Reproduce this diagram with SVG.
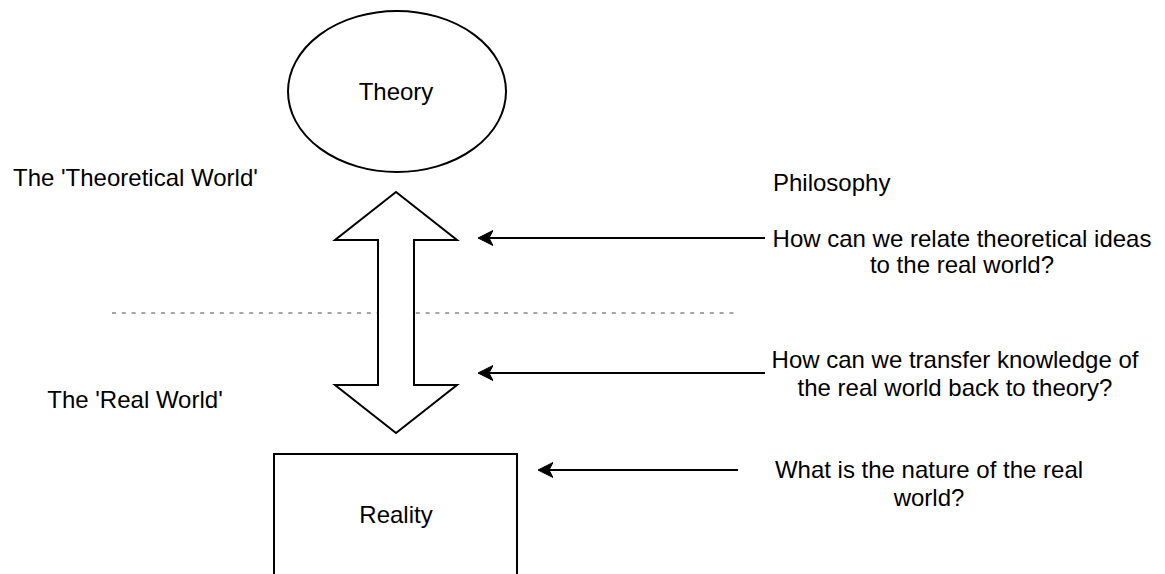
<svg xmlns="http://www.w3.org/2000/svg" width="1165" height="574" viewBox="0 0 1165 574">
  <style>
    .shape { fill: #ffffff; stroke: #000000; stroke-width: 2; }
    .label { font-family: "Liberation Sans", Arial, Helvetica, sans-serif; font-size: 24px; fill: #000000; }
    .mid { text-anchor: middle; }
    .edge { fill: none; stroke: #000000; stroke-width: 2; }
    .divider { fill: none; stroke: #a6a6a6; stroke-width: 2; stroke-dasharray: 4 5.8; }
  </style>
  <defs>
    <!-- classic notched arrowhead; refX sits on the notch so the line ends there -->
    <marker id="classic" viewBox="0 0 15 16" refX="4" refY="8" markerWidth="15" markerHeight="16" markerUnits="userSpaceOnUse" orient="auto">
      <path d="M15,8 L0,0.5 L4,8 L0,15.5 Z" fill="#000000" stroke="#000000" stroke-width="1" stroke-linejoin="miter"/>
    </marker>
  </defs>

  <rect width="1165" height="574" fill="#ffffff"/>

  <!-- boundary between the two worlds -->
  <line class="divider" x1="112" y1="313" x2="735" y2="313"/>

  <g id="theory">
    <ellipse class="shape" cx="397" cy="91.5" rx="109" ry="80.5"/>
    <text class="label mid" x="396" y="100">Theory</text>
  </g>

  <g id="link">
    <path class="shape" d="M396,192 L457,240 L414,240 L414,385 L457,385 L396,433 L335,385 L378,385 L378,240 L335,240 Z" stroke-linejoin="miter"/>
  </g>

  <g id="reality">
    <rect class="shape" x="274" y="454" width="243" height="126"/>
    <text class="label mid" x="396" y="523">Reality</text>
  </g>

  <g id="theoretical-world">
    <text class="label" x="13" y="186">The 'Theoretical World'</text>
  </g>

  <g id="real-world">
    <text class="label mid" x="135" y="408">The 'Real World'</text>
  </g>

  <g id="philosophy">
    <text class="label" x="773" y="191">Philosophy</text>
  </g>

  <g id="question-relate">
    <text class="label mid" x="962" y="247">How can we relate theoretical ideas</text>
    <text class="label mid" x="962" y="273">to the real world?</text>
  </g>

  <g id="question-transfer">
    <text class="label mid" x="955" y="368">How can we transfer knowledge of</text>
    <text class="label mid" x="955" y="396">the real world back to theory?</text>
  </g>

  <g id="question-nature">
    <text class="label mid" x="929" y="478">What is the nature of the real</text>
    <text class="label mid" x="929" y="506">world?</text>
  </g>

  <g id="connectors">
    <line class="edge" x1="765" y1="238" x2="489" y2="238" marker-end="url(#classic)"/>
    <line class="edge" x1="765" y1="373" x2="489" y2="373" marker-end="url(#classic)"/>
    <line class="edge" x1="738" y1="470" x2="549" y2="470" marker-end="url(#classic)"/>
  </g>
</svg>
